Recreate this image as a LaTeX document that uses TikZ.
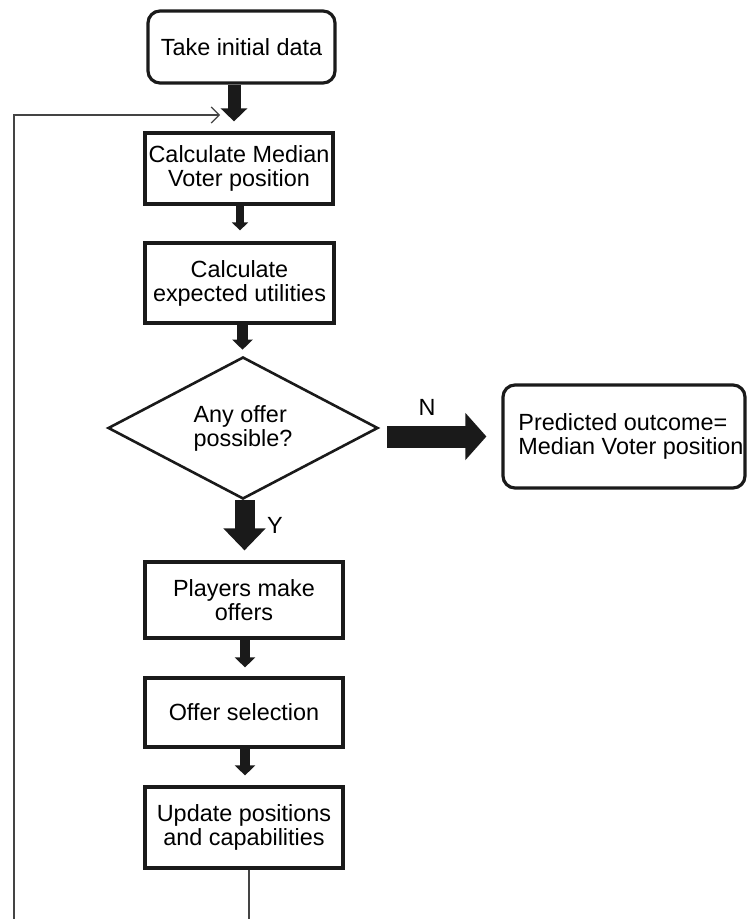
\documentclass[tikz,border=0pt]{standalone}
\usepackage{fontspec}
\setmainfont{Liberation Sans}
\usetikzlibrary{shapes.geometric,arrows.meta,calc}
\definecolor{ink}{HTML}{1A1A1A}
\definecolor{thin}{HTML}{444444}
\newcommand{\fsz}{\fontsize{11.7}{12}\selectfont}
\newcommand{\vblk}[5]{\draw[#5] (#1.south -| #3,0) -- ($(#2.north -| #3,0)+(0,-#4)$);}
\tikzset{
  procbox/.style={draw=ink, line width=1.6pt, inner sep=0pt, align=center, font=\fsz, text=black},
  roundbox/.style={procbox, rounded corners=6pt},
  decbox/.style={draw=ink, line width=1.3pt, diamond, inner sep=0pt, aspect=1.9, align=left, font=\fsz,
                 minimum width=135pt, minimum height=71pt},
  blk/.style n args={3}{draw=ink, line width=#1, -{Triangle[length=#3,width=#2]}},
  loopline/.style={draw=thin, line width=0.6pt, -{Straight Barb[length=4pt,width=8pt]}},
  lbl/.style={font=\fsz, inner sep=0pt}
}
\begin{document}
\begin{tikzpicture}[x=0.5pt,y=-0.5pt]
\path[use as bounding box] (0,0) rectangle (749,919);
\clip (0,0) rectangle (749,919);

\node[roundbox, minimum width=93.5pt, minimum height=36pt] (take) at (241.5,47) {Take initial data};
\node[procbox, minimum width=94pt, minimum height=35.5pt] (med) at (239,168.5) {Calculate Median\\Voter position};
\node[procbox, minimum width=94.5pt, minimum height=40pt] (exp) at (239.5,283) {Calculate\\expected utilities};
\node[decbox] (dia) at (243,428) {Any offer\\possible?};
\node[roundbox, minimum width=121pt, minimum height=51.5pt, align=left] (pred) at (624,436.5)
  {\hspace*{7pt}Predicted outcome=\\\hspace*{7pt}Median Voter position};
\node[procbox, minimum width=99pt, minimum height=38pt] (play) at (244,600) {Players make\\offers};
\node[procbox, minimum width=99pt, minimum height=34.5pt] (sel) at (244,712.5) {Offer selection};
\node[procbox, minimum width=99pt, minimum height=40.5pt] (upd) at (244,827.5) {Update positions\\and capabilities};

% block arrows
\vblk{take}{med}{234}{10}{blk={6.5pt}{13pt}{6.5pt}}
\vblk{med}{exp}{240}{11}{blk={4pt}{8pt}{4pt}}
\vblk{exp}{dia}{242.5}{6}{blk={5.5pt}{10pt}{5pt}}
\vblk{dia}{play}{244.5}{10}{blk={10pt}{20.5pt}{11pt}}
\vblk{play}{sel}{245}{9}{blk={5pt}{10pt}{5pt}}
\vblk{sel}{upd}{245}{10}{blk={5pt}{10pt}{5pt}}
\draw[blk={11pt}{23pt}{10.5pt}] ($(dia.east |- pred.west)+(8,0)$) -- ($(pred.west)+(-15,0)$);

\node[lbl] (nl) at (427,407) {N};
\node[lbl] (yl) at (275,525) {Y};

% loop back
\coordinate (loopend) at (220,115);
\draw[loopline] ([xshift=2.5pt]upd.south) -- ++(0,100) -| (14,115) -- (loopend);
\end{tikzpicture}
\end{document}
